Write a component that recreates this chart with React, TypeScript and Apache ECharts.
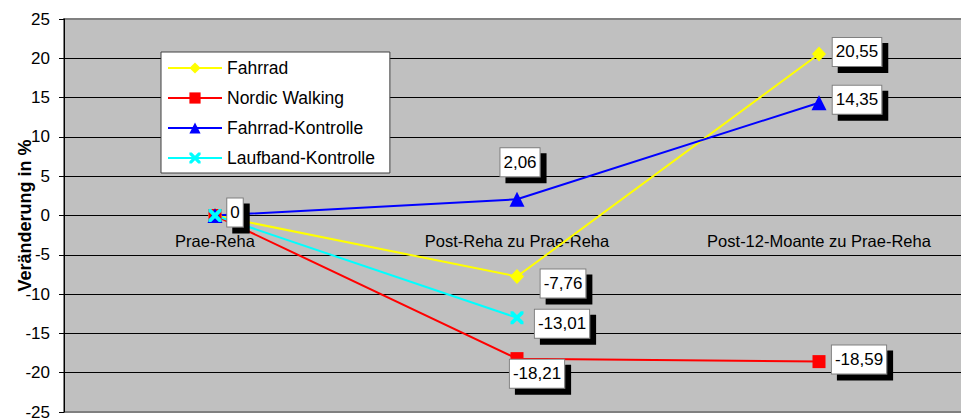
import React, { useEffect, useRef } from "react";
import * as echarts from "echarts";

const categories = ["Prae-Reha", "Post-Reha zu Prae-Reha", "Post-12-Moante zu Prae-Reha"];
const fahrrad = [0, -7.76, 20.55];
const nordicWalking = [0, -18.21, -18.59];
const fahrradKontrolle = [0, 2.06, 14.35];
const laufbandKontrolle: (number | null)[] = [0, -13.01, null];
const yMin = -25;
const yMax = 25;
const yInterval = 5;

const FONT = "'Liberation Sans', Arial, sans-serif";
const xPath =
  "path://M0,0 L2.5,0 L6,3.5 L9.5,0 L12,0 L12,2.5 L8.5,6 L12,9.5 L12,12 L9.5,12 L6,8.5 L2.5,12 L0,12 L0,9.5 L3.5,6 L0,2.5 Z";

type Off = [number, number] | null;

const GRID_TOP = 19;
const GRID_BOTTOM = 6;
const CHART_H = 418;

const labelStyle = {
  fontSize: 17,
  fontFamily: FONT,
  color: "#000",
  backgroundColor: "#fff",
  borderColor: "#808080",
  borderWidth: 1,
  padding: [6, 3, 5, 3],
  shadowColor: "#000",
  shadowOffsetX: 6,
  shadowOffsetY: 6,
  shadowBlur: 0,
};

function fmt(v: number) {
  return v === 0 ? "0" : v.toFixed(2).replace(".", ",");
}

function build(values: (number | null)[], offs: Off[]) {
  return values.map((v, i) => {
    const o = offs[i];
    if (v === null) return { value: null };
    return {
      value: v,
      label: o
        ? { show: true, position: "inside", offset: o, ...labelStyle, formatter: (p: any) => fmt(p.value) }
        : { show: false },
    };
  });
}

export default function App() {
  const ref = useRef<HTMLDivElement>(null);
  useEffect(() => {
    if (!ref.current) return;
    const chart = echarts.init(ref.current, null, { renderer: "svg" });
    const splitColors = ["#808080", "#000", "#000", "#000", "#000", "#000", "#000", "#000", "#000", "#000", "#808080"];
    const plotH = CHART_H - GRID_TOP - GRID_BOTTOM;
    const zeroFromBottom = (plotH * (0 - yMin)) / (yMax - yMin);
    chart.setOption({
      animation: false,
      textStyle: { fontFamily: FONT },
      grid: {
        left: 64,
        top: GRID_TOP,
        width: 906,
        bottom: GRID_BOTTOM,
        outerBoundsMode: "none",
        containLabel: false,
        show: true,
        backgroundColor: "#C0C0C0",
        borderColor: "#808080",
        borderWidth: 2,
      },
      legend: {
        orient: "vertical",
        left: 161,
        top: 52,
        backgroundColor: "#fff",
        borderColor: "#404040",
        borderWidth: 1,
        padding: [7, 15, 6, 6],
        itemWidth: 54,
        itemHeight: 14,
        itemGap: 12,
        textStyle: { fontSize: 17.5, lineHeight: 18, color: "#000", fontFamily: FONT },
        data: ["Fahrrad", "Nordic Walking", "Fahrrad-Kontrolle", "Laufband-Kontrolle"],
      },
      xAxis: {
        type: "category",
        data: categories,
        boundaryGap: true,
        position: "bottom",
        offset: -zeroFromBottom,
        axisLine: { onZero: false, lineStyle: { color: "#000", width: 1 } },
        axisTick: { show: false },
        axisLabel: { color: "#000", fontSize: 16.5, fontFamily: FONT, margin: 17 },
        splitLine: { show: false },
      },
      yAxis: {
        type: "value",
        min: yMin,
        max: yMax,
        interval: yInterval,
        name: "Veränderung in %",
        nameLocation: "middle",
        nameGap: 30,
        nameMoveOverlap: false,
        nameTextStyle: { fontSize: 18, fontWeight: "bold", color: "#000", fontFamily: FONT },
        axisLine: { show: true, lineStyle: { color: "#000", width: 1 } },
        axisTick: { show: true, length: 5, lineStyle: { color: "#000" } },
        axisLabel: { color: "#000", fontSize: 17, fontFamily: FONT, margin: 14 },
        splitLine: { show: true, lineStyle: { color: splitColors, width: 1 } },
      },
      series: [
        {
          name: "Fahrrad",
          type: "line",
          data: build(fahrrad, [null, [46, 7], [38, -2]]),
          symbol: "diamond",
          symbolSize: [14, 15],
          itemStyle: { color: "#FFFF00" },
          lineStyle: { color: "#FFFF00", width: 2 },
        },
        {
          name: "Nordic Walking",
          type: "line",
          data: build(nordicWalking, [null, [20, 15], [40, -2]]),
          symbol: "rect",
          symbolSize: 13,
          itemStyle: { color: "#FF0000" },
          lineStyle: { color: "#FF0000", width: 2 },
        },
        {
          name: "Fahrrad-Kontrolle",
          type: "line",
          data: build(fahrradKontrolle, [null, [3, -37], [38, -3]]),
          symbol: "triangle",
          symbolSize: 15,
          itemStyle: { color: "#0000FF" },
          lineStyle: { color: "#0000FF", width: 2 },
        },
        {
          name: "Laufband-Kontrolle",
          type: "line",
          data: build(laufbandKontrolle, [[20, -3], [45, 6], null]),
          symbol: xPath,
          symbolSize: 13,
          connectNulls: false,
          itemStyle: { color: "#00FFFF" },
          lineStyle: { color: "#00FFFF", width: 2 },
        },
      ],
    });
    return () => chart.dispose();
  }, []);
  return (
    <div
      ref={ref}
      style={{ position: "fixed", left: 0, top: 0, width: 961, height: 418, background: "#fff" }}
    />
  );
}
